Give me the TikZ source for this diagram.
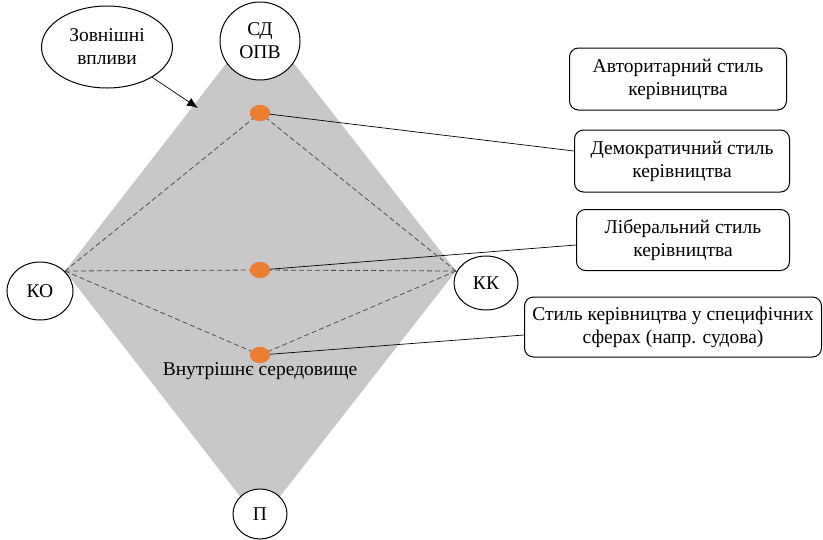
\documentclass[tikz,border=0pt]{standalone}
\usepackage{fontspec}
\setmainfont{Liberation Serif}
\newfontfamily\timesfont{Liberation Serif}
\usetikzlibrary{shapes.geometric,arrows.meta}
\definecolor{dotorange}{RGB}{237,125,49}
\definecolor{rhombgray}{RGB}{200,200,200}

\begin{document}
\begin{tikzpicture}[x=1pt,y=-1pt,
        txt/.style={font=\timesfont\fontsize{19.5}{23}\selectfont},
        oval/.style={txt,draw,line width=1pt,ellipse,fill=white,inner sep=0pt,align=center},
        stylebox/.style={txt,draw,line width=1pt,rounded corners=9pt,fill=white,align=center},
        dot/.style={ellipse,fill=dotorange,inner sep=0pt,minimum width=20pt,minimum height=16pt},
        link/.style={dashed,dash pattern=on 5pt off 3pt,draw=black!70,line width=0.8pt}]
        \useasboundingbox (0,0) rectangle (823,539);
        % rhombus
        \coordinate (top) at (260,20);
        \coordinate (left) at (65,271);
        \coordinate (right) at (456,271);
        \coordinate (bottom) at (260,522);
        \fill[rhombgray] (top) -- (right) -- (bottom) -- (left) -- cycle;
        \node[dot] (d1) at (260,113) {};
        \node[dot] (d2) at (260,270) {};
        \node[dot] (d3) at (260,355) {};
        \foreach \d in {d1,d2,d3} {
            \draw[link] (left) -- (\d.center);
            \draw[link] (right) -- (\d.center);
        }
        \node[txt] (inner) at (260,371) {Внутрішнє середовище};
        % styles
        \node[stylebox, minimum width=217pt, minimum height=62pt] (auth) at (678,79) {Авторитарний стиль\\керівництва};
        \node[stylebox, minimum width=215pt, minimum height=62pt] (demo) at (682,161) {Демократичний стиль\\керівництва};
        \node[stylebox, minimum width=213pt, minimum height=61pt] (lib) at (683,240) {Ліберальний стиль\\керівництва};
        \node[stylebox, minimum width=297pt, minimum height=60pt] (spec) at (673,327) {Стиль керівництва у специфічних\\сферах (напр. судова)};
        \draw[line width=0.7pt] (d1.center) -- ([yshift=10pt]demo.west);
        \draw[line width=0.7pt] (d2.center) -- ([yshift=-5pt]lib.west);
        \draw[line width=0.7pt] (d3.center) -- ([yshift=-8pt]spec.west);
        \foreach \d in {d1,d2,d3} \node[dot] at (\d) {};
        % vertices
        \node[oval, minimum width=80pt, minimum height=78pt] (sd) at (260,41) {СД\\ОПВ};
        \node[oval, minimum width=66pt, minimum height=58pt] (ko) at (40,291) {КО};
        \node[oval, minimum width=64pt, minimum height=54pt] (kk) at (486,283) {КК};
        \node[oval, minimum width=54pt, minimum height=50pt] (p) at (260,514) {П};
        \node[oval, minimum width=131pt, minimum height=82pt] (ext) at (107,47) {Зовнішні\\впливи};
        \coordinate (hit) at (198,108);
        \draw[-{Latex[length=11pt,width=9pt]}, line width=0.7pt] (ext) -- (hit);
\end{tikzpicture}
\end{document}
